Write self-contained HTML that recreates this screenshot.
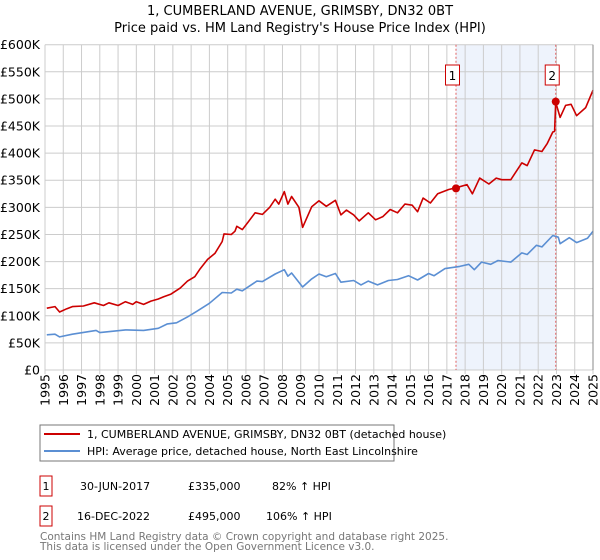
<!DOCTYPE html>
<html><head><meta charset="utf-8"><style>
body{margin:0;width:600px;height:560px;background:#fff;font-family:"DejaVu Sans","Liberation Sans",sans-serif;overflow:hidden}
svg{display:block}
</style></head><body>
<svg id="chart" width="600" height="560" font-family="DejaVu Sans, Liberation Sans, sans-serif">
<text x="300" y="15" text-anchor="middle" font-size="13">1, CUMBERLAND AVENUE, GRIMSBY, DN32 0BT</text>
<text x="300" y="32" text-anchor="middle" font-size="13">Price paid vs. HM Land Registry's House Price Index (HPI)</text>
<g id="plot"></g>
<rect x="40" y="425" width="354" height="36" fill="#fff" stroke="#777"/>
<line x1="44" y1="434" x2="80" y2="434" stroke="#cc0000" stroke-width="2"/>
<text x="87" y="438" font-size="11">1, CUMBERLAND AVENUE, GRIMSBY, DN32 0BT (detached house)</text>
<line x1="44" y1="451" x2="80" y2="451" stroke="#5b8fd3" stroke-width="2"/>
<text x="87" y="455" font-size="11">HPI: Average price, detached house, North East Lincolnshire</text>
<g font-size="11">
<rect x="40" y="476" width="12" height="20" fill="none" stroke="#cc0000"/>
<text x="46" y="490" text-anchor="middle">1</text>
<text x="80" y="490">30-JUN-2017</text><text x="188" y="490">£335,000</text><text x="272" y="490">82% ↑ HPI</text>
<rect x="40" y="506" width="12" height="20" fill="none" stroke="#cc0000"/>
<text x="46" y="520" text-anchor="middle">2</text>
<text x="77" y="520">16-DEC-2022</text><text x="188" y="520">£495,000</text><text x="266" y="520">106% ↑ HPI</text>
</g>
<text x="40" y="540" font-size="10.5" fill="#777">Contains HM Land Registry data © Crown copyright and database right 2025.</text>
<text x="40" y="550" font-size="10.5" fill="#777">This data is licensed under the Open Government Licence v3.0.</text>
</svg>
<script>
const yTicks=[0,50,100,150,200,250,300,350,400,450,500,550,600];
const yTickLabels=["£0","£50K","£100K","£150K","£200K","£250K","£300K","£350K","£400K","£450K","£500K","£550K","£600K"];
const xYears=[1995,1996,1997,1998,1999,2000,2001,2002,2003,2004,2005,2006,2007,2008,2009,2010,2011,2012,2013,2014,2015,2016,2017,2018,2019,2020,2021,2022,2023,2024,2025];
const redT=[1995.1,1995.55,1995.8,1996.2,1996.5,1997.1,1997.7,1998.2,1998.5,1999,1999.4,1999.8,2000,2000.4,2000.8,2001.2,2001.5,2001.9,2002.4,2002.8,2003.2,2003.5,2003.9,2004.3,2004.7,2004.8,2005.2,2005.4,2005.5,2005.8,2006.1,2006.5,2006.9,2007.3,2007.6,2007.8,2008.1,2008.3,2008.5,2008.9,2009.1,2009.6,2010,2010.4,2010.9,2011.2,2011.5,2011.9,2012.2,2012.7,2013.1,2013.5,2013.9,2014.3,2014.7,2015.1,2015.4,2015.7,2016.1,2016.5,2017.1,2017.5,2018.1,2018.4,2018.8,2019.3,2019.7,2020,2020.5,2021.1,2021.4,2021.8,2022.2,2022.5,2022.8,2022.9,2022.96,2023.2,2023.5,2023.8,2024.1,2024.6,2025];
const redV=[114,117,107,113,117,118,124,119,124,119,126,121,126,121,127,131,135,140,151,164,172,187,204,215,237,251,250,256,265,259,272,290,287,300,315,306,329,306,320,300,263,301,312,302,313,286,295,286,275,290,277,283,296,290,306,304,292,317,308,325,333,336,342,325,354,343,354,351,351,382,377,406,403,418,439,440,494,466,488,490,469,484,516];
const blueT=[1995.1,1995.55,1995.8,1996.5,1997.8,1998,1999.4,2000.4,2001.2,2001.7,2002.2,2002.8,2003.3,2004,2004.7,2005.2,2005.5,2005.8,2006.6,2006.9,2007.6,2008.1,2008.3,2008.5,2009.1,2009.6,2010,2010.4,2010.9,2011.2,2011.9,2012.3,2012.7,2013.2,2013.8,2014.3,2014.9,2015.4,2016,2016.3,2016.9,2017.7,2018.2,2018.5,2018.9,2019.4,2019.8,2020.5,2021.1,2021.4,2021.9,2022.2,2022.8,2023.1,2023.2,2023.7,2024.1,2024.7,2025];
const blueV=[65,66,61,66,73,69,74,73,77,85,87,98,108,123,143,142,149,146,164,163,177,185,173,179,153,168,177,172,178,162,165,157,164,157,165,167,174,166,178,174,187,191,195,185,199,195,202,199,216,213,230,227,248,245,233,244,235,243,256];
const saleT=[2017.5,2022.96];
const saleV=[335,495];
const saleLabels=["1","2"];

const L=45,R=593,T=44.7,B=370;
const x=t=>L+(t-1995)/30*(R-L);
const y=v=>B-v/600*(B-T);
const NS="http://www.w3.org/2000/svg";
const g=document.getElementById('plot');
function mk(tag,attrs){const e=document.createElementNS(NS,tag);for(const k in attrs)e.setAttribute(k,attrs[k]);g.appendChild(e);return e;}

let e=mk('rect',{x:x(saleT[0]),y:T,width:x(saleT[1])-x(saleT[0]),height:B-T,fill:'#eef3fc'});


yTicks.forEach((v,i)=>{
  let l=mk('line',{x1:L,x2:R,y1:y(v),y2:y(v),stroke:'#ccc'});
  
  
  let t=mk('text',{x:40,y:y(v)+4.5,'text-anchor':'end','font-size':'12.5'});
  t.textContent=yTickLabels[i];
  
  
});
xYears.forEach(yr=>{
  let l=mk('line',{x1:x(yr),x2:x(yr),y1:T,y2:B+4,stroke:'#ccc'});
  
  
  let t=mk('text',{x:0,y:0,'font-size':'12.5','text-anchor':'end',transform:`translate(${x(yr)+4.5},${B+4}) rotate(-90)`});
  t.textContent=yr;
  
  
});
saleT.forEach((t,i)=>{
  let l=mk('line',{x1:x(t),x2:x(t),y1:T,y2:B,stroke:'#e06060','stroke-dasharray':'2,2'});
  
  
  let bx=x(t)-10.5;
  let r=mk('rect',{x:bx,y:65,width:14,height:20,fill:'#fff',stroke:'#cc0000'});
  
  
  let tx=mk('text',{x:bx+7,y:80,'text-anchor':'middle','font-size':'12'});
  tx.textContent=saleLabels[i];
  
  
});
function line(ts,vs,col,name){
  let p=mk('polyline',{points:ts.map((t,i)=>x(t).toFixed(1)+','+y(vs[i]).toFixed(1)).join(' '),fill:'none',stroke:col,'stroke-width':'1.6','stroke-linejoin':'round'});
  
  
}
line(blueT,blueV,'#5b8fd3','hpi-line');
line(redT,redV,'#cc0000','property-price-line');
saleT.forEach((t,i)=>{
  let c=mk('circle',{cx:x(t),cy:y(saleV[i]),r:4,fill:'#cc0000'});
  
  
});
let ax=mk('line',{x1:R,x2:R,y1:T,y2:B,stroke:'#888'});


</script>
</body></html>
